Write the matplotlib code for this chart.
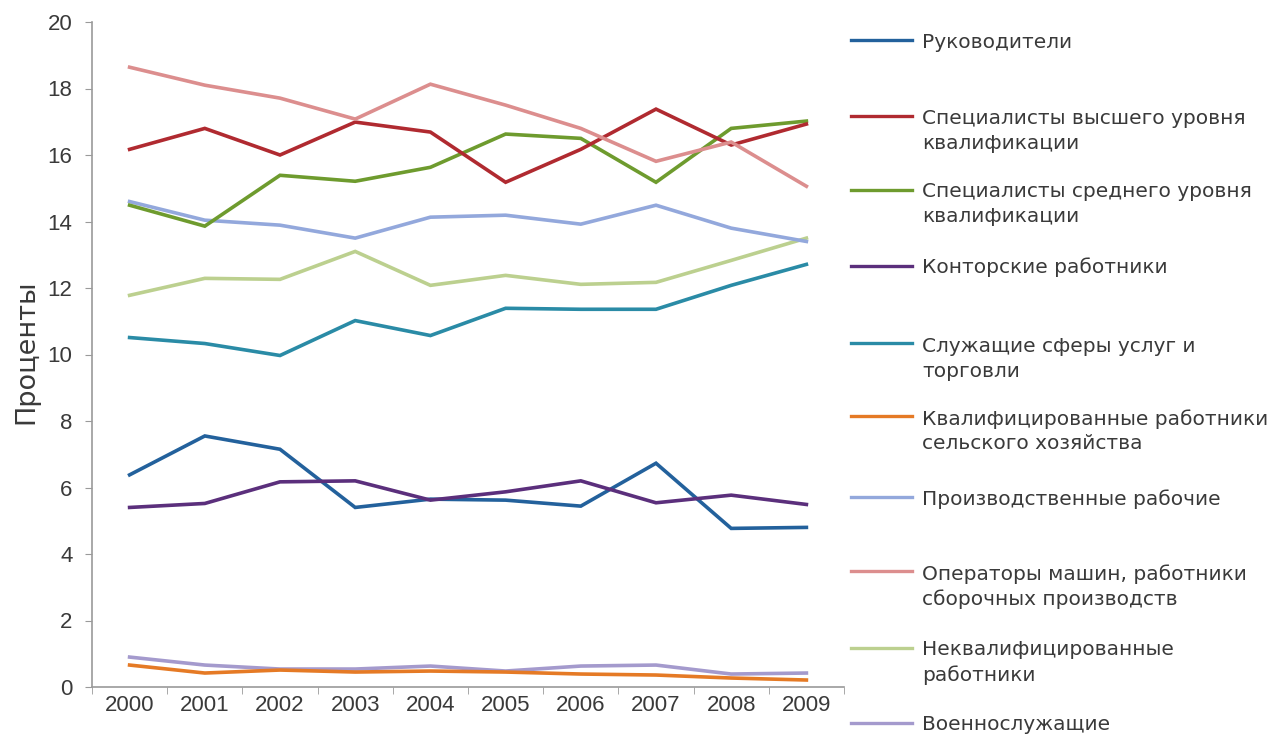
import matplotlib
matplotlib.use("Agg")
import matplotlib.pyplot as plt
from matplotlib.lines import Line2D

years = ["2000", "2001", "2002", "2003", "2004", "2005", "2006", "2007", "2008", "2009"]

managers = [6.38, 7.55, 7.15, 5.40, 5.65, 5.62, 5.44, 6.73, 4.77, 4.80]
spec_high = [16.17, 16.8, 16.0, 16.99, 16.69, 15.18, 16.17, 17.38, 16.3, 16.93]
spec_mid = [14.49, 13.86, 15.39, 15.21, 15.63, 16.63, 16.5, 15.18, 16.8, 17.02]
clerks = [5.40, 5.52, 6.17, 6.20, 5.62, 5.87, 6.20, 5.54, 5.77, 5.49]
services = [10.51, 10.33, 9.97, 11.02, 10.57, 11.39, 11.36, 11.36, 12.08, 12.71]
agri = [0.66, 0.42, 0.51, 0.45, 0.48, 0.45, 0.39, 0.36, 0.27, 0.21]
craft = [14.6, 14.04, 13.89, 13.5, 14.13, 14.19, 13.92, 14.49, 13.8, 13.4]
operators = [18.64, 18.1, 17.71, 17.08, 18.13, 17.5, 16.8, 15.81, 16.39, 15.06]
unskilled = [11.78, 12.29, 12.26, 13.1, 12.08, 12.38, 12.11, 12.17, 12.83, 13.5]
military = [0.9, 0.66, 0.54, 0.54, 0.63, 0.48, 0.63, 0.66, 0.39, 0.42]

labels = [
    "Руководители",
    "Специалисты высшего уровня\nквалификации",
    "Специалисты среднего уровня\nквалификации",
    "Конторские работники",
    "Служащие сферы услуг и\nторговли",
    "Квалифицированные работники\nсельского хозяйства",
    "Производственные рабочие",
    "Операторы машин, работники\nсборочных производств",
    "Неквалифицированные\nработники",
    "Военнослужащие",
]
series = [managers, spec_high, spec_mid, clerks, services, agri, craft, operators, unskilled, military]
colors = ["#23619c", "#b02a30", "#6e9b2e", "#5b2f7c", "#2a8ba6", "#e57a25",
          "#93a8dc", "#dc8e8e", "#bcd08f", "#a49acd"]

plt.rcParams['font.family'] = ['Liberation Sans', 'DejaVu Sans']
text_color = "#3a3a3a"
wide_font = ['DejaVu Sans']

fig = plt.figure(figsize=(12.76, 7.36), dpi=100)
ax = fig.add_axes([92 / 1276, (736 - 687) / 736, 752 / 1276, 665 / 736])

x = list(range(len(years)))
order = [9, 5, 0, 3, 4, 8, 6, 2, 1, 7]
for i in order:
    ax.plot(x, series[i], color=colors[i], linewidth=2.6, solid_joinstyle='miter')

ax.set_xlim(-0.5, len(years) - 0.5)
ax.set_ylim(0, 20)
ax.set_yticks(range(0, 21, 2))
ax.set_xticks(x)
ax.set_xticklabels(years)
ax.set_xticks([i + 0.5 for i in range(-1, len(years))], minor=True)
ax.tick_params(axis='x', which='major', length=0, labelsize=16, colors=text_color, pad=6)
ax.tick_params(axis='x', which='minor', length=5, color="#9a9a9a", direction='out')
ax.tick_params(axis='y', length=5, color="#9a9a9a", labelsize=16, labelcolor=text_color, pad=9)
for s in ["top", "right"]:
    ax.spines[s].set_visible(False)
for s in ["left", "bottom"]:
    ax.spines[s].set_color("#9a9a9a")
    ax.spines[s].set_linewidth(1.2)

fig.text(26 / 1276, 1 - 352 / 736, "Проценты", rotation=90, ha='center', va='center',
         fontsize=19.5, color=text_color, family=wide_font)

# manual legend
entry_y = [44, 120, 193, 268, 348, 420, 500, 575, 651, 726]
line_y = [40, 116, 190, 266, 343, 416, 497, 571, 648, 723]
for i in range(len(labels)):
    ly = 1 - line_y[i] / 736
    fig.add_artist(Line2D([851 / 1276, 912 / 1276], [ly, ly], transform=fig.transFigure,
                          color=colors[i], linewidth=2.4))
    ty = 1 - (entry_y[i] - 11) / 736
    fig.text(922 / 1276, ty, labels[i], ha='left', va='top', fontsize=14.5,
             color=text_color, linespacing=1.38, family=wide_font)

fig.savefig("out.png", dpi=100, facecolor="white")
